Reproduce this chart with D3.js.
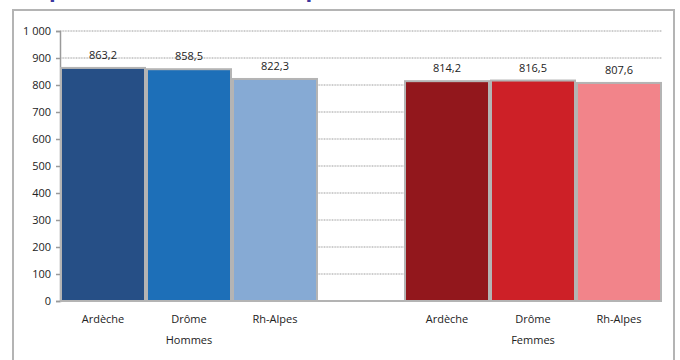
<!DOCTYPE html>
<html>
<head>
<meta charset="utf-8">
<script src="https://cdn.jsdelivr.net/npm/d3@7"></script>
<style>
  body { margin: 0; background: #fff; }
  svg { display: block; font-family: "Open Sans", "DejaVu Sans", sans-serif; }
</style>
</head>
<body>
<svg id="chart" width="680" height="360"></svg>
<script>
// Mortality rates per sex and territory
const groups = ["Hommes", "Femmes"];
const territories = ["Ardèche", "Drôme", "Rh-Alpes"];
const hommesValues = [863.2, 858.5, 822.3];
const femmesValues = [814.2, 816.5, 807.6];
const yTicks = [0, 100, 200, 300, 400, 500, 600, 700, 800, 900, 1000];
const yTickLabels = ["0", "100", "200", "300", "400", "500", "600", "700", "800", "900", "1\u00a0000"];
const hommesColors = ["#264f86", "#1d6fb8", "#86aad4"];
const femmesColors = ["#92171c", "#cd2027", "#f2848a"];

const svg = d3.select("#chart");
const plot = { left: 60, right: 662, top: 31, bottom: 301 };

// Title, sitting above the frame
const title = svg.append("text")
  .attr("x", 0).attr("y", -3)
  .attr("fill", "#3b379e")
  .attr("font-size", 22)
  .attr("font-weight", "bold")
  .text("Mortalité pour 100 000 habitants par an, 2000-2008");
try {
  const s = title.text();
  const i = s.indexOf("p");
  const p = title.node().getStartPositionOfChar(i).x;
  title.attr("x", 49 - p);
} catch (e) {}

// Outer frame
svg.append("rect")
  .attr("x", 13).attr("y", 10)
  .attr("width", 661).attr("height", 360)
  .attr("fill", "#fff")
  .attr("stroke", "#b4b4b4").attr("stroke-width", 2);

// Slots: three territories, a spacer, three territories
const slots = [];
territories.forEach((t, i) => slots.push({ key: "H" + i, name: t, value: hommesValues[i], color: hommesColors[i] }));
slots.push({ key: "gap", name: "", value: null });
territories.forEach((t, i) => slots.push({ key: "F" + i, name: t, value: femmesValues[i], color: femmesColors[i] }));

const x = d3.scaleBand().domain(slots.map(d => d.key))
  .range([plot.left, plot.right]).paddingInner(0).paddingOuter(0);
const y = d3.scaleLinear().domain([0, 1000]).range([plot.bottom, plot.top]);

// Gridlines
svg.append("g").selectAll("line").data(yTicks.filter(d => d > 0)).join("line")
  .attr("x1", plot.left).attr("x2", plot.right)
  .attr("y1", d => y(d)).attr("y2", d => y(d))
  .attr("stroke", "#9c9c9c").attr("stroke-width", 1)
  .attr("stroke-dasharray", "1,0.6");

// Y axis
const yAxis = svg.append("g")
  .attr("transform", `translate(${plot.left},0)`)
  .call(d3.axisLeft(y).tickValues(yTicks).tickSize(4).tickPadding(5)
    .tickFormat((d, i) => yTickLabels[i]));
yAxis.select(".domain").attr("stroke", "#9a9a9a").attr("stroke-width", 1.5);
yAxis.selectAll(".tick line").attr("stroke", "#9a9a9a").attr("stroke-width", 1.5);
yAxis.selectAll(".tick text").attr("fill", "#222").attr("font-size", 11)
  .attr("font-family", "\"Open Sans\", sans-serif");

// X axis baseline
svg.append("line")
  .attr("x1", plot.left).attr("x2", plot.right)
  .attr("y1", y(0)).attr("y2", y(0))
  .attr("stroke", "#9a9a9a").attr("stroke-width", 1.5);

// Bars
const bars = slots.filter(d => d.value !== null);
svg.append("g").selectAll("rect").data(bars).join("rect")
  .attr("x", d => x(d.key) + 1)
  .attr("y", d => y(d.value))
  .attr("width", x.bandwidth() - 2)
  .attr("height", d => y(0) - y(d.value))
  .attr("fill", d => d.color)
  .attr("stroke", "#b4b4b4").attr("stroke-width", 2);

// Value labels
const num = d3.format(".1f");
svg.append("g").selectAll("text").data(bars).join("text")
  .attr("x", d => x(d.key) + x.bandwidth() / 2)
  .attr("y", d => y(d.value) - 9)
  .attr("text-anchor", "middle")
  .attr("font-size", 11).attr("fill", "#222")
  .text(d => num(d.value).replace(".", ","));

// Territory labels
svg.append("g").selectAll("text").data(bars).join("text")
  .attr("x", d => x(d.key) + x.bandwidth() / 2)
  .attr("y", 323)
  .attr("text-anchor", "middle")
  .attr("font-size", 11).attr("fill", "#222")
  .text(d => d.name);

// Group labels
groups.forEach((g, gi) => {
  const mid = x(gi === 0 ? "H1" : "F1") + x.bandwidth() / 2;
  svg.append("text")
    .attr("x", mid).attr("y", 344)
    .attr("text-anchor", "middle")
    .attr("font-size", 11).attr("fill", "#222")
    .text(g);
});
</script>
</body>
</html>
